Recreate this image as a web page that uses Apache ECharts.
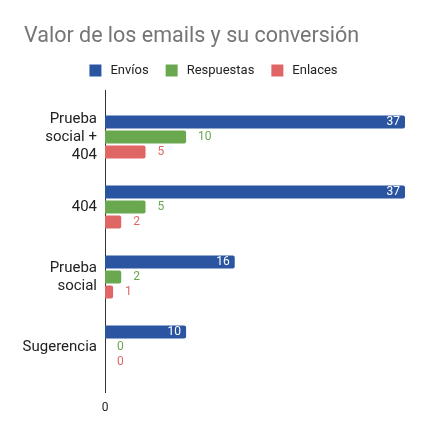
<!DOCTYPE html>
<html>
<head>
<meta charset="utf-8">
<script src="https://cdn.jsdelivr.net/npm/echarts@6/dist/echarts.min.js"></script>
<style>
  html, body { margin: 0; padding: 0; background: #fff; }
  #chart { width: 427px; height: 435px; }
</style>
</head>
<body>
<div id="chart"></div>
<script>
// categories (top to bottom) and series values
var categorias = ['Prueba\nsocial +\n404', '404', 'Prueba\nsocial', 'Sugerencia'];
var envios = [37, 37, 16, 10];
var respuestas = [10, 5, 2, 0];
var enlaces = [5, 2, 1, 0];

var COLORS = ['#2b55a1', '#6aa84f', '#e06666'];
var FUENTE = 'Roboto';

var chart = echarts.init(document.getElementById('chart'));

function serie(nombre, datos, color, dentro) {
    return {
        name: nombre,
        type: 'bar',
        data: datos,
        barWidth: 13,
        barGap: '15%',
        itemStyle: { color: color, borderRadius: [0, 2, 2, 0] },
        label: {
            show: true,
            position: dentro ? 'insideRight' : 'right',
            distance: dentro ? 5 : 12,
            color: dentro ? '#ffffff' : color,
            fontSize: 12,
            fontFamily: FUENTE
        }
    };
}

chart.setOption({
    animation: false,
    color: COLORS,
    title: {
        text: 'Valor de los emails y su conversión',
        left: 19,
        top: 21,
        textStyle: { fontSize: 21.5, fontWeight: 'normal', color: '#757575', fontFamily: FUENTE }
    },
    legend: {
        top: 59,
        left: 'center',
        itemWidth: 12,
        itemHeight: 12,
        itemGap: 17,
        icon: 'rect',
        textStyle: { fontSize: 13, color: '#222', fontFamily: FUENTE, padding: [0, 0, 0, 4] },
        data: ['Envíos', 'Respuestas', 'Enlaces']
    },
    grid: { left: 105, right: 22, top: 102, bottom: 53, containLabel: false },
    xAxis: {
        type: 'value',
        min: 0,
        max: 37,
        interval: 37,
        splitLine: { show: false },
        axisLine: { show: false },
        axisTick: { show: false },
        axisLabel: {
            margin: 20,
            fontSize: 12,
            color: '#222',
            fontFamily: FUENTE,
            formatter: function (v) { return v === 0 ? '0' : ''; }
        }
    },
    yAxis: {
        type: 'category',
        inverse: true,
        data: categorias,
        axisLine: { show: false },
        axisTick: { show: false },
        axisLabel: { margin: 8, fontSize: 15, lineHeight: 18, color: '#222', fontFamily: FUENTE, align: 'right' }
    },
    graphic: [{
        type: 'line',
        shape: { x1: 105.5, y1: 90, x2: 105.5, y2: 393 },
        style: { stroke: '#333', lineWidth: 1 }
    }],
    series: [
        serie('Envíos', envios, COLORS[0], true),
        serie('Respuestas', respuestas, COLORS[1], false),
        serie('Enlaces', enlaces, COLORS[2], false)
    ]
});
</script>
</body>
</html>
